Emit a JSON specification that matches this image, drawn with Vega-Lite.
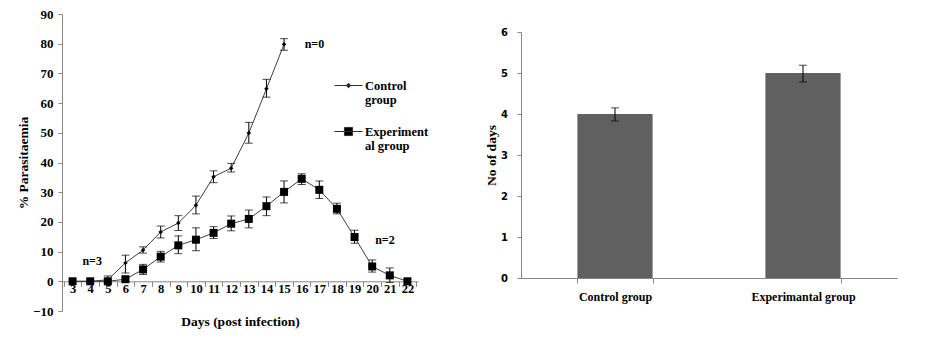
{
  "$schema": "https://vega.github.io/schema/vega-lite/v6.json",
  "padding": {"left": 16, "top": 8, "right": 5, "bottom": 5},
  "spacing": 66,
  "config": {
    "view": {"stroke": null},
    "font": "Liberation Serif",
    "axis": {
      "grid": false,
      "labelFont": "Liberation Serif", "labelFontWeight": "bold", "labelFontSize": 12, "labelColor": "black",
      "titleFont": "Liberation Serif", "titleFontWeight": "bold", "titleFontSize": 13.5, "titleColor": "black",
      "domainColor": "#868686", "tickColor": "#868686"
    }
  },
  "datasets": {
    "par": [
      {"day": 3, "group": "Control group", "value": 0},
      {"day": 4, "group": "Control group", "value": 0},
      {"day": 5, "group": "Control group", "value": 0.5, "lo": -0.5, "hi": 1.8},
      {"day": 6, "group": "Control group", "value": 6.2, "lo": 2.8, "hi": 8.8},
      {"day": 7, "group": "Control group", "value": 10.5, "lo": 9.5, "hi": 11.6},
      {"day": 8, "group": "Control group", "value": 16.6, "lo": 14.6, "hi": 18.6},
      {"day": 9, "group": "Control group", "value": 19.6, "lo": 17.1, "hi": 22.1},
      {"day": 10, "group": "Control group", "value": 25.6, "lo": 22.7, "hi": 28.7},
      {"day": 11, "group": "Control group", "value": 35.2, "lo": 33.2, "hi": 37.2},
      {"day": 12, "group": "Control group", "value": 38.1, "lo": 36.8, "hi": 39.7},
      {"day": 13, "group": "Control group", "value": 49.9, "lo": 46.5, "hi": 53.5},
      {"day": 14, "group": "Control group", "value": 64.8, "lo": 62, "hi": 68},
      {"day": 15, "group": "Control group", "value": 79.8, "lo": 77.8, "hi": 81.7},
      {"day": 3, "group": "Experimental group", "value": 0},
      {"day": 4, "group": "Experimental group", "value": 0},
      {"day": 5, "group": "Experimental group", "value": 0},
      {"day": 6, "group": "Experimental group", "value": 0.7, "lo": 0, "hi": 1.5},
      {"day": 7, "group": "Experimental group", "value": 4, "lo": 2.3, "hi": 5.7},
      {"day": 8, "group": "Experimental group", "value": 8.3, "lo": 6.5, "hi": 10.1},
      {"day": 9, "group": "Experimental group", "value": 12.1, "lo": 9.3, "hi": 15.3},
      {"day": 10, "group": "Experimental group", "value": 14, "lo": 10.3, "hi": 18},
      {"day": 11, "group": "Experimental group", "value": 16.3, "lo": 14.4, "hi": 18.4},
      {"day": 12, "group": "Experimental group", "value": 19.4, "lo": 17, "hi": 22},
      {"day": 13, "group": "Experimental group", "value": 21, "lo": 18, "hi": 24},
      {"day": 14, "group": "Experimental group", "value": 25.3, "lo": 22.1, "hi": 28.4},
      {"day": 15, "group": "Experimental group", "value": 30.1, "lo": 26.4, "hi": 33.8},
      {"day": 16, "group": "Experimental group", "value": 34.5, "lo": 32.6, "hi": 36.2},
      {"day": 17, "group": "Experimental group", "value": 30.8, "lo": 27.9, "hi": 33.8},
      {"day": 18, "group": "Experimental group", "value": 24.4, "lo": 22.7, "hi": 26.3},
      {"day": 19, "group": "Experimental group", "value": 14.9, "lo": 12.8, "hi": 17.2},
      {"day": 20, "group": "Experimental group", "value": 5, "lo": 3.1, "hi": 7.2},
      {"day": 21, "group": "Experimental group", "value": 2, "lo": -0.4, "hi": 4.5},
      {"day": 22, "group": "Experimental group", "value": 0}
    ],
    "notes": [
      {"day": 16, "value": 80, "label": "n=0"},
      {"day": 4, "value": 6.7, "label": "n=3"},
      {"day": 20, "value": 14, "label": "n=2"}
    ],
    "days": [
      {"group": "Control group", "value": 4, "lo": 3.83, "hi": 4.15},
      {"group": "Experimantal group", "value": 5, "lo": 4.78, "hi": 5.19}
    ]
  },
  "hconcat": [
    {
      "width": 356,
      "height": 297,
      "data": {"name": "par"},
      "encoding": {
        "x": {
          "field": "day", "type": "ordinal", "bandPosition": 0.5,
          "scale": {"type": "band", "domain": [3,4,5,6,7,8,9,10,11,12,13,14,15,16,17,18,19,20,21,22], "paddingInner": 0, "paddingOuter": 0.1},
          "axis": {"title": "Days (post infection)", "labelAngle": 0, "offset": -29.7, "tickBand": "extent", "tickSize": 5, "labelPadding": -4, "labelFontSize": 12.5, "titlePadding": 20}
        },
        "y": {
          "field": "value", "type": "quantitative",
          "scale": {"domain": [-10, 90], "nice": false, "zero": false},
          "axis": {"title": "% Parasitaemia", "values": [-10,0,10,20,30,40,50,60,70,80,90], "tickSize": 4, "labelPadding": 5, "labelFontSize": 13, "titlePadding": 2}
        }
      },
      "layer": [
        {
          "mark": {"type": "line", "color": "#404040", "strokeWidth": 1},
          "encoding": {"detail": {"field": "group"}}
        },
        {
          "transform": [{"filter": "isValid(datum.lo)"}],
          "mark": {"type": "rule", "color": "black", "strokeWidth": 1},
          "encoding": {"y": {"field": "lo", "type": "quantitative"}, "y2": {"field": "hi"}}
        },
        {
          "transform": [{"filter": "isValid(datum.lo)"}],
          "mark": {"type": "tick", "color": "black", "size": 8, "thickness": 1, "orient": "horizontal"},
          "encoding": {"y": {"field": "lo", "type": "quantitative"}}
        },
        {
          "transform": [{"filter": "isValid(datum.hi)"}],
          "mark": {"type": "tick", "color": "black", "size": 8, "thickness": 1, "orient": "horizontal"},
          "encoding": {"y": {"field": "hi", "type": "quantitative"}}
        },
        {
          "transform": [{"filter": "datum.group == 'Control group'"}],
          "mark": {"type": "point", "shape": "diamond", "filled": true, "color": "black", "size": 20, "opacity": 1}
        },
        {
          "transform": [{"filter": "datum.group == 'Experimental group'"}],
          "mark": {"type": "point", "shape": "square", "filled": true, "color": "black", "size": 64, "opacity": 1}
        },
        {
          "mark": {"type": "point", "fill": "black", "stroke": "#303030", "strokeWidth": 1, "opacity": 0},
          "encoding": {
            "shape": {
              "field": "group", "type": "nominal",
              "scale": {"domain": ["Control group", "Experimental group"], "range": ["M-1,0L1,0M0,-0.16L0.16,0L0,0.16L-0.16,0Z", "M-1,0L1,0M-0.29,-0.29L0.29,-0.29L0.29,0.29L-0.29,0.29Z"]},
              "legend": {
                "title": null, "orient": "none", "legendX": 272, "legendY": 57, "padding": 0,
                "symbolSize": 784, "symbolStrokeWidth": 1, "symbolOpacity": 1,
                "labelFont": "Liberation Serif", "labelFontWeight": "bold", "labelFontSize": 12.5, "labelColor": "black",
                "labelOffset": 2, "rowPadding": 10, "labelBaseline": "middle",
                "labelExpr": "datum.label == 'Control group' ? ['Control', 'group'] : ['Experiment', 'al group']"
              }
            }
          }
        },
        {
          "data": {"name": "notes"},
          "transform": [{"filter": "datum.label != 'n=3'"}],
          "mark": {"type": "text", "align": "left", "dx": 3, "font": "Liberation Serif", "fontWeight": "bold", "fontSize": 12, "color": "black"},
          "encoding": {"text": {"field": "label"}}
        },
        {
          "data": {"name": "notes"},
          "transform": [{"filter": "datum.label == 'n=3'"}],
          "mark": {"type": "text", "align": "center", "dx": 2, "font": "Liberation Serif", "fontWeight": "bold", "fontSize": 12, "color": "black"},
          "encoding": {"text": {"field": "label"}}
        }
      ]
    },
    {
      "spacing": 12,
      "vconcat": [
        {
          "width": 376,
          "height": 1,
          "data": {"values": []},
          "mark": {"type": "point", "opacity": 0},
          "encoding": {}
        },
        {
          "width": 376,
          "height": 246,
          "data": {"name": "days"},
          "encoding": {
            "x": {
              "field": "group", "type": "nominal", "sort": null,
              "scale": {"paddingInner": 0.6, "paddingOuter": 0.3},
              "axis": {"title": null, "labelAngle": 0, "tickBand": "extent", "tickSize": 5, "labelPadding": 8}
            }
          },
          "layer": [
            {
              "mark": {"type": "bar", "color": "#606060"},
              "encoding": {
                "y": {
                  "field": "value", "type": "quantitative",
                  "scale": {"domain": [0, 6], "nice": false},
                  "axis": {"title": "No of days", "values": [0,1,2,3,4,5,6], "tickSize": 4, "labelPadding": 9.5, "titlePadding": 2.5, "labelFont": "DejaVu Sans", "labelFontSize": 10}
                }
              }
            },
            {
              "mark": {"type": "rule", "color": "black", "strokeWidth": 1},
              "encoding": {"y": {"field": "lo", "type": "quantitative"}, "y2": {"field": "hi"}}
            },
            {
              "mark": {"type": "tick", "color": "black", "size": 8, "thickness": 1, "orient": "horizontal"},
              "encoding": {"y": {"field": "lo", "type": "quantitative"}}
            },
            {
              "mark": {"type": "tick", "color": "black", "size": 8, "thickness": 1, "orient": "horizontal"},
              "encoding": {"y": {"field": "hi", "type": "quantitative"}}
            }
          ]
        }
      ]
    }
  ]
}
